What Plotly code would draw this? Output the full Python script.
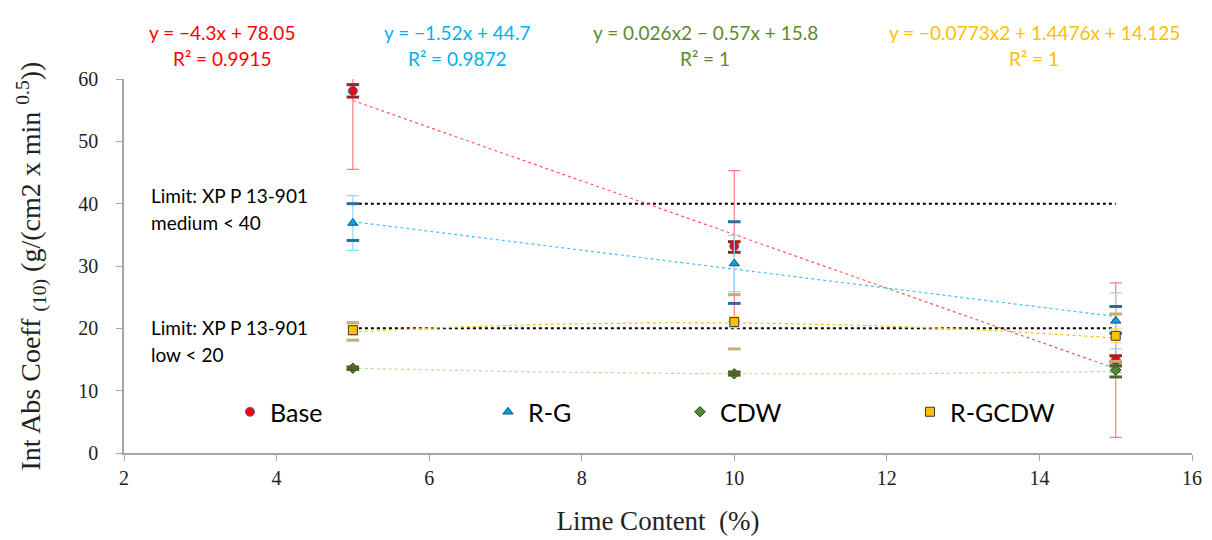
import numpy as np
import plotly.graph_objects as go

# ---------------- data ----------------
lime = [5, 10, 15]

base_vals = [58.1, 33.2, 14.9]
base_err = [12.6, 12.1, 12.4]
base_hi = [59.1, 33.9, 15.6]
base_lo = [57.1, 32.2, 14.6]

rg_vals = [36.9, 30.4, 21.2]
rg_err = [4.4, 4.5, 4.5]
rg_hi = [40.0, 37.1, 23.5]
rg_lo = [34.1, 24.0, 19.2]

cdw_vals = [13.6, 12.7, 13.3]
cdw_err = [0.3, 0.3, 0.4]
cdw_hi = [13.8, 13.0, 14.0]
cdw_lo = [13.4, 12.5, 12.2]

rgcdw_vals = [19.7, 21.0, 18.8]
rgcdw_err = [0.8, 0.9, 1.1]
rgcdw_hi = [20.9, 25.4, 22.3]
rgcdw_lo = [18.1, 16.7, 14.7]

# trendline coefficients as printed on the chart (highest power first)
base_fit = [-4.3, 78.05]
rg_fit = [-1.52, 44.7]
cdw_fit = [0.026, -0.57, 15.8]
rgcdw_fit = [-0.0773, 1.4476, 14.125]

base_eq = ["y = −4.3x + 78.05", "R² = 0.9915"]
rg_eq = ["y = −1.52x + 44.7", "R² = 0.9872"]
cdw_eq = ["y = 0.026x2 − 0.57x + 15.8", "R² = 1"]
rgcdw_eq = ["y = −0.0773x2 + 1.4476x + 14.125", "R² = 1"]

limit_levels = [40, 20]
limit_labels = [["Limit: XP P 13-901", "medium < 40"], ["Limit: XP P 13-901", "low < 20"]]

x_ticks = [2, 4, 6, 8, 10, 12, 14, 16]
y_ticks = [0, 10, 20, 30, 40, 50, 60]

# ---------------- figure ----------------
fig = go.Figure()
xfit = np.linspace(lime[0], lime[-1], 60)

def trend(coefs, color, width=1.2):
    fig.add_trace(go.Scatter(x=xfit, y=np.polyval(coefs, xfit), mode="lines",
                             line=dict(color=color, width=width, dash="dot"),
                             showlegend=False, hoverinfo="skip"))

# limit lines
for lv in limit_levels:
    fig.add_trace(go.Scatter(x=[lime[0], lime[-1]], y=[lv, lv], mode="lines",
                             line=dict(color="black", width=2, dash="dot"),
                             showlegend=False, hoverinfo="skip"))

trend(cdw_fit, "#B7DD9A")
trend(rgcdw_fit, "#FFC000")
trend(rg_fit, "#3FC3F5")
trend(base_fit, "#FF5A5A")

def series(name, vals, err, errcolor, symbol, fill, outline, size, legend):
    fig.add_trace(go.Scatter(
        x=lime, y=vals, name=name, mode="markers",
        marker=dict(symbol=symbol, color=fill, size=size, line=dict(color=outline, width=1)),
        error_y=dict(type="data", array=err, color=errcolor, thickness=1.2, width=6),
        legend=legend))

def dashes(hi, lo, color):
    fig.add_trace(go.Scatter(
        x=lime + lime, y=hi + lo, mode="markers",
        marker=dict(symbol="line-ew", size=9, line=dict(color=color, width=3)),
        showlegend=False, hoverinfo="skip"))

series("Base", base_vals, base_err, "#FF7C80", "circle", "#FF0000", "#2E75B6", 9, "legend")
dashes(base_hi, base_lo, "#9B2226")
series("R-G", rg_vals, rg_err, "#8ED8F8", "triangle-up", "#00A2E8", "#1F4E79", 9, "legend2")
dashes(rg_hi, rg_lo, "#2E6E96")
series("R-GCDW", rgcdw_vals, rgcdw_err, "#FFD966", "square", "#FFC000", "#3A3A3A", 9, "legend4")
dashes(rgcdw_hi, rgcdw_lo, "#C4AE78")
series("CDW", cdw_vals, cdw_err, "#A9D18E", "diamond", "#4E8A2E", "#2A3A1A", 8, "legend3")
dashes(cdw_hi, cdw_lo, "#4F6228")

# ---------------- annotations ----------------
ann_font = "Lato"
W, H = 1212, 540
L, R, T, B = 124, 20, 79, 87
pw, ph = W - L - R, H - T - B

def px_ann(xp, yp, text, color, xanchor="center", size=19):
    fig.add_annotation(x=(xp - L) / pw, y=1 - (yp - T) / ph, xref="paper", yref="paper",
                       text=text, showarrow=False,
                       font=dict(family=ann_font, size=size, color=color),
                       xanchor=xanchor, yanchor="middle")

for lines, color, xc in [(base_eq, "#FF0000", 222), (rg_eq, "#00B0F0", 457),
                         (cdw_eq, "#5B8A2E", 705), (rgcdw_eq, "#FFC000", 1034)]:
    px_ann(xc, 33, lines[0], color)
    px_ann(xc, 58, lines[1], color)

for (l1, l2), y1 in zip(limit_labels, [195, 327]):
    px_ann(149, y1, l1, "black", xanchor="left", size=19)
    px_ann(149, y1 + 27, l2, "black", xanchor="left", size=19)

legend_common = dict(orientation="h", yanchor="middle", xanchor="left", y=(453 - 412) / ph,
                     bgcolor="rgba(0,0,0,0)", font=dict(family=ann_font, size=25, color="black"),
                     itemclick=False)
fig.update_layout(
    width=W, height=H,
    margin=dict(l=L, r=R, t=T, b=B, pad=0, autoexpand=False),
    plot_bgcolor="white", paper_bgcolor="white",
    showlegend=True,
    legend=dict(x=(230 - L) / pw, **legend_common),
    legend2=dict(x=(488 - L) / pw, **legend_common),
    legend3=dict(x=(680 - L) / pw, **legend_common),
    legend4=dict(x=(910 - L) / pw, **legend_common),
    xaxis=dict(range=[2, 16], tickvals=x_ticks, showgrid=False, zeroline=False, automargin=False,
               showline=True, linecolor="#A6A6A6", linewidth=1.5,
               ticks="outside", ticklen=6, tickcolor="#A6A6A6",
               tickfont=dict(family="Liberation Serif", size=20, color="#222"),
               title=dict(text="Lime Content  (%)", standoff=23,
                          font=dict(family="Liberation Serif", size=27, color="#222"))),
    yaxis=dict(range=[0, 60], tickvals=y_ticks, showgrid=False, zeroline=False, automargin=False,
               showline=True, linecolor="#A6A6A6", linewidth=1.5,
               ticks="outside", ticklen=6, tickcolor="#A6A6A6", ticklabelstandoff=14,
               tickfont=dict(family="Liberation Serif", size=20, color="#222"),
               title=dict(text="Int Abs Coeff <sub>(10)</sub> (g/(cm2 x min <sup>0.5</sup>))", standoff=29,
                          font=dict(family="Liberation Serif", size=28, color="#222"))),
)

fig.write_html("out.html")
